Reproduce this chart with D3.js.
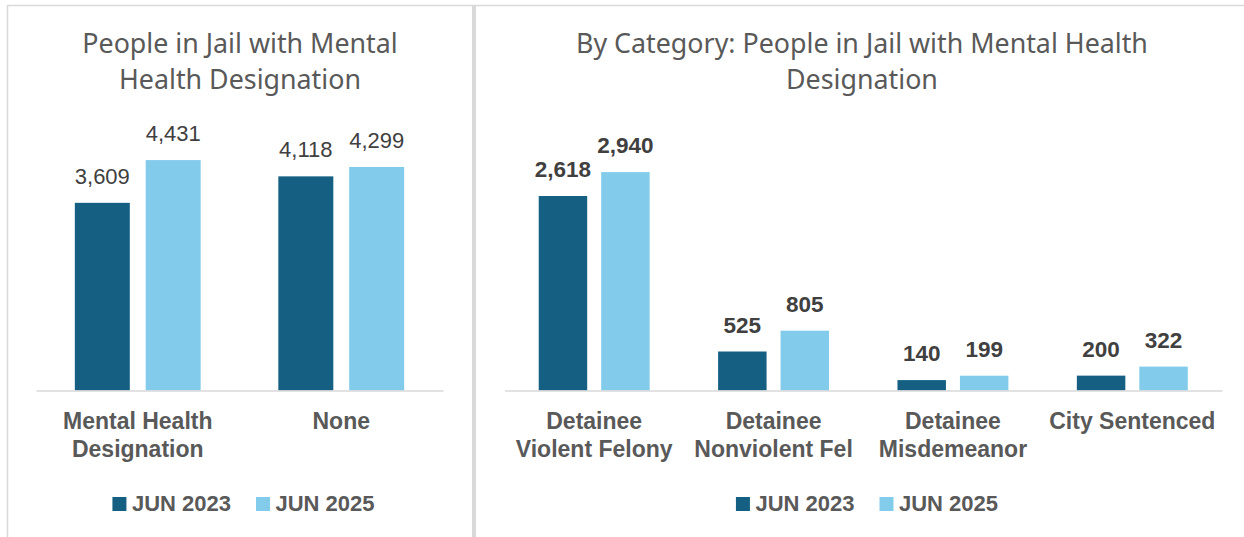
<!DOCTYPE html>
<html>
<head>
<meta charset="utf-8">
<script src="https://cdn.jsdelivr.net/npm/d3@7"></script>
<style>
body { margin: 0; background: #fff; }
svg { display: block; }
</style>
</head>
<body>
<svg id="chart"></svg>
<script>
// ---- data ----
const series = ["JUN 2023", "JUN 2025"];
const seriesColors = ["#156082", "#83CBEB"];

const leftTitle = ["People in Jail with Mental", "Health Designation"];
const leftCategories = ["Mental Health Designation", "None"];
const leftJun2023 = [3609, 4118];
const leftJun2025 = [4431, 4299];

const rightTitle = ["By Category: People in Jail with Mental Health", "Designation"];
const rightCategories = ["Detainee Violent Felony", "Detainee Nonviolent Fel", "Detainee Misdemeanor", "City Sentenced"];
const rightJun2023 = [2618, 525, 140, 200];
const rightJun2025 = [2940, 805, 199, 322];

const W = 1244, H = 537;
const svg = d3.select("#chart").attr("width", W).attr("height", H);

// panel frames
svg.append("line").attr("x1", 7).attr("x2", W).attr("y1", 5.5).attr("y2", 5.5)
	.attr("stroke", "#d9d9d9").attr("stroke-width", 1.5);
svg.append("line").attr("x1", 7.5).attr("x2", 7.5).attr("y1", 5).attr("y2", H)
	.attr("stroke", "#d9d9d9").attr("stroke-width", 1.5);
svg.append("rect").attr("x", 472).attr("y", 5).attr("width", 4).attr("height", H - 5)
	.attr("fill", "#d9d9d9");

const plotTop = 130.5, plotBottom = 390.5;
const labelFont = "'Liberation Sans', Arial, sans-serif";

function wrapText(textSel, maxWidth, lineHeight){
	textSel.each(function(){
		let text = d3.select(this);
		let words = text.text().split(" ");
		text.text(null);
		let lines = [], line = [];
		let probe = text.append("tspan");
		for (let w of words){
			line.push(w);
			probe.text(line.join(" "));
			if (probe.node().getComputedTextLength() > maxWidth && line.length > 1){
				line.pop();
				lines.push(line.join(" "));
				line = [w];
			}
		}
		lines.push(line.join(" "));
		probe.remove();
		lines.forEach((l, i) => {
			text.append("tspan").attr("x", 0).attr("dy", i == 0 ? 0 : lineHeight).text(l);
		});
	});
}

function drawPanel(cfg){
	let g = svg.append("g");

	// title
	g.append("text")
		.attr("x", cfg.titleX)
		.attr("text-anchor", "middle")
		.attr("font-family", "'Noto Sans', sans-serif")
		.attr("font-size", 26.8)
		.attr("fill", "#595959")
		.selectAll("tspan")
		.data(cfg.title)
		.join("tspan")
		.attr("x", cfg.titleX)
		.attr("y", (d, i) => 53 + i * 35.5)
		.text(d => d);

	let x0 = d3.scaleBand()
		.domain(cfg.categories)
		.range(cfg.xRange)
		.paddingInner(0)
		.paddingOuter(0);
	let x1 = d3.scaleBand()
		.domain(series)
		.range([0, x0.bandwidth()])
		.paddingInner(0.224)
		.paddingOuter(0.548);
	let y = d3.scaleLinear()
		.domain([0, cfg.yMax])
		.range([plotBottom, plotTop]);

	let rows = cfg.categories.map((c, i) => ({
		cat: c,
		vals: series.map((s, j) => ({ s: s, j: j, v: cfg.values[j][i] }))
	}));

	let groups = g.selectAll(".grp")
		.data(rows)
		.join("g")
		.attr("class", "grp")
		.attr("transform", d => "translate(" + x0(d.cat) + ",0)");

	groups.selectAll("rect")
		.data(d => d.vals)
		.join("rect")
		.attr("x", d => x1(d.s))
		.attr("y", d => y(d.v))
		.attr("width", x1.bandwidth())
		.attr("height", d => y(0) - y(d.v))
		.attr("fill", d => seriesColors[d.j]);

	groups.selectAll(".val")
		.data(d => d.vals)
		.join("text")
		.attr("class", "val")
		.attr("x", d => x1(d.s) + x1.bandwidth() / 2)
		.attr("y", d => y(d.v) - 19)
		.attr("text-anchor", "middle")
		.attr("font-family", labelFont)
		.attr("font-size", cfg.labelSize)
		.attr("font-weight", cfg.labelWeight)
		.attr("fill", "#404040")
		.text(d => d3.format(",")(d.v));

	// category axis, its domain line is the baseline
	let axis = g.append("g")
		.attr("transform", "translate(0," + plotBottom + ")")
		.call(d3.axisBottom(x0).tickSize(0).tickSizeOuter(0).tickPadding(0));
	axis.select(".domain").attr("stroke", "#d9d9d9").attr("stroke-width", 1.5);
	axis.selectAll(".tick text")
		.attr("font-family", labelFont)
		.attr("font-size", 23)
		.attr("font-weight", "bold")
		.attr("fill", "#595959")
		.attr("dy", null)
		.attr("y", 38.5)
		.call(wrapText, 170, 28);

	// legend
	let leg = g.append("g");
	let items = leg.selectAll("g")
		.data(series)
		.join("g");
	items.append("rect")
		.attr("y", 497)
		.attr("width", 14)
		.attr("height", 14)
		.attr("fill", (d, i) => seriesColors[i]);
	items.append("text")
		.attr("x", 19.5)
		.attr("y", 510.7)
		.attr("font-family", labelFont)
		.attr("font-size", 22)
		.attr("font-weight", "bold")
		.attr("fill", "#595959")
		.text(d => d);
	let offs = 0, widths = [];
	items.each(function(){
		let w = 19.5 + d3.select(this).select("text").node().getComputedTextLength();
		widths.push(w);
	});
	let total = d3.sum(widths) + 25 * (widths.length - 1);
	items.attr("transform", (d, i) => {
		let t = "translate(" + (cfg.legendX - total / 2 + offs) + ",0)";
		offs += widths[i] + 25;
		return t;
	});
}

drawPanel({
	title: leftTitle,
	titleX: 240,
	categories: leftCategories,
	values: [leftJun2023, leftJun2025],
	yMax: 5000,
	xRange: [36, 443],
	labelWeight: "normal",
	labelSize: 22,
	legendX: 243.5
});

drawPanel({
	title: rightTitle,
	titleX: 862,
	categories: rightCategories,
	values: [rightJun2023, rightJun2025],
	yMax: 3500,
	xRange: [504.5, 1222],
	labelWeight: "bold",
	labelSize: 22.5,
	legendX: 867
});
</script>
</body>
</html>
